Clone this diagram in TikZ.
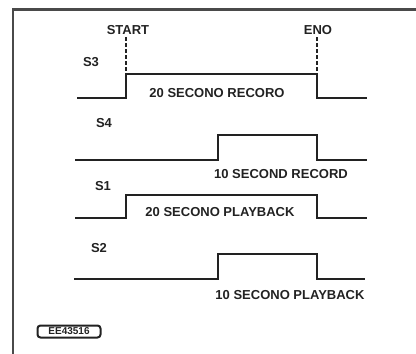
\documentclass[tikz,border=0pt]{standalone}
\usepackage{fontspec}
\setmainfont{Liberation Sans}
\usetikzlibrary{positioning}
\definecolor{WaveInk}{HTML}{222222}
\definecolor{FrameInk}{HTML}{4A4A4A}

\begin{document}
\begin{tikzpicture}[x=1pt,y=-1pt]
    \tikzset{wave/.style={draw=WaveInk,line width=2.6pt,line join=miter},
      tag/.style={font=\bfseries\fontsize{13}{15}\selectfont,text=WaveInk,inner sep=0pt},
      marker/.style={draw=WaveInk,line width=1.7pt,dash pattern=on 4pt off 2pt}}
    \useasboundingbox (0,0) rectangle (416,354);
    \draw[FrameInk,line width=2.2pt] (13,354) -- (13,9.5) -- (416,9.5);
    \node[tag] (start) at (128,30) {START};
    \node[tag] (eno) at (318,30) {ENO};
    \node[tag] (s3) at (91,62) {S3};
    \node[tag] (s4) at (104,123) {S4};
    \node[tag] (s1) at (103,186) {S1};
    \node[tag] (s2) at (99,248) {S2};
    \coordinate (t0) at (126,0);
    \coordinate (t1) at (218,0);
    \coordinate (t2) at (317,0);
    \draw[wave] (77,98) -- (t0 |- 0,98) -- (t0 |- 0,74) -- (t2 |- 0,74) -- (t2 |- 0,98) -- (367,98);
    \draw[wave] (75,160) -- (t1 |- 0,160) -- (t1 |- 0,135) -- (t2 |- 0,135) -- (t2 |- 0,160) -- (367,160);
    \draw[wave] (75,218) -- (t0 |- 0,218) -- (t0 |- 0,195) -- (t2 |- 0,195) -- (t2 |- 0,218) -- (367,218);
    \draw[wave] (74,279) -- (t1 |- 0,279) -- (t1 |- 0,254) -- (t2 |- 0,254) -- (t2 |- 0,279) -- (365,279);
    \draw[marker] (t0 |- 0,37) -- (t0 |- 0,73);
    \draw[marker] (t2 |- 0,37) -- (t2 |- 0,73);
    \node[tag] (rec20) at (217,93) {20 SECONO RECORO};
    \node[tag] (rec10) at (281,174) {10 SECOND RECORD};
    \node[tag] (play20) at (220,212) {20 SECONO PLAYBACK};
    \node[tag] (play10) at (290,295) {10 SECONO PLAYBACK};
    \node[draw=WaveInk,line width=2pt,rounded corners=3pt,minimum width=63pt,minimum height=12pt,
      inner sep=0pt,font=\bfseries\fontsize{10}{11}\selectfont,text=WaveInk] (ref) at (69,331.5) {EE43516};
  \end{tikzpicture}
\end{document}
